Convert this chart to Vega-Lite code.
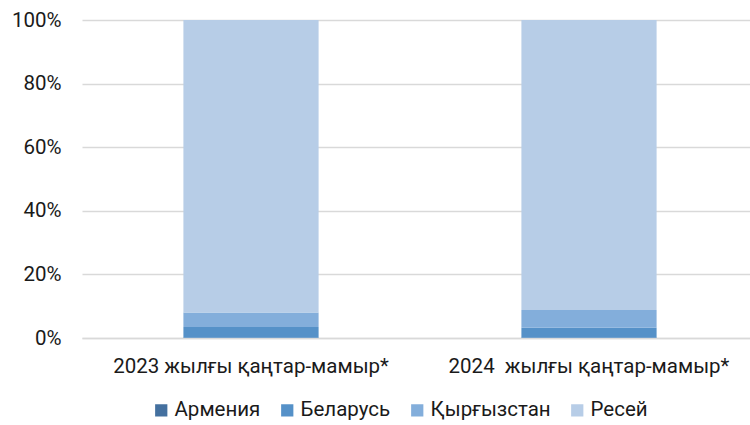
{
  "$schema": "https://vega.github.io/schema/vega-lite/v6.json",
  "width": 676,
  "height": 318,
  "autosize": {"type": "none"},
  "padding": {"left": 82, "top": 20, "right": 0, "bottom": 87},
  "background": "white",
  "config": {
    "font": "Roboto",
    "view": {"stroke": null},
    "axis": {"labelFont": "Roboto", "labelFontSize": 20.5, "labelColor": "#1a1a1a"}
  },
  "data": {
    "values": [
      {"period": "2023 жылғы қаңтар-мамыр*", "country": "Армения", "value": 0.05},
      {"period": "2023 жылғы қаңтар-мамыр*", "country": "Беларусь", "value": 3.4},
      {"period": "2023 жылғы қаңтар-мамыр*", "country": "Қырғызстан", "value": 4.6},
      {"period": "2023 жылғы қаңтар-мамыр*", "country": "Ресей", "value": 91.95},
      {"period": "2024\u00a0 жылғы қаңтар-мамыр*", "country": "Армения", "value": 0.1},
      {"period": "2024\u00a0 жылғы қаңтар-мамыр*", "country": "Беларусь", "value": 3.1},
      {"period": "2024\u00a0 жылғы қаңтар-мамыр*", "country": "Қырғызстан", "value": 5.6},
      {"period": "2024\u00a0 жылғы қаңтар-мамыр*", "country": "Ресей", "value": 91.2}
    ]
  },
  "transform": [
    {"calculate": "indexof(['Армения', 'Беларусь', 'Қырғызстан', 'Ресей'], datum.country)", "as": "stackOrder"}
  ],
  "mark": {"type": "bar"},
  "encoding": {
    "x": {
      "field": "period",
      "type": "nominal",
      "sort": null,
      "title": null,
      "scale": {"paddingInner": 0.6, "paddingOuter": 0.3},
      "axis": {"labelAngle": 0, "labelLimit": 0, "ticks": false, "domainColor": "#d9d9d9", "domainWidth": 1.5, "labelPadding": 18}
    },
    "y": {
      "field": "value",
      "type": "quantitative",
      "stack": "normalize",
      "title": null,
      "scale": {"domain": [0, 1], "nice": false},
      "axis": {"format": ".0%", "values": [0, 0.2, 0.4, 0.6, 0.8, 1], "domain": false, "ticks": false, "gridColor": "#d9d9d9", "gridWidth": 1.5, "labelPadding": 21}
    },
    "order": {"field": "stackOrder", "type": "quantitative", "sort": "ascending"},
    "color": {
      "field": "country",
      "type": "nominal",
      "sort": ["Армения", "Беларусь", "Қырғызстан", "Ресей"],
      "scale": {"domain": ["Армения", "Беларусь", "Қырғызстан", "Ресей"], "range": ["#44709f", "#5591c8", "#83aedb", "#b7cde7"]},
      "legend": {
        "title": null,
        "orient": "none",
        "direction": "horizontal",
        "legendX": 69,
        "legendY": 380,
        "symbolType": "square",
        "symbolSize": 150,
        "symbolStrokeWidth": 0,
        "labelFontSize": 20.5,
        "labelFont": "Roboto",
        "labelColor": "#1a1a1a",
        "columnPadding": 16,
        "labelOffset": 3
      }
    }
  }
}
